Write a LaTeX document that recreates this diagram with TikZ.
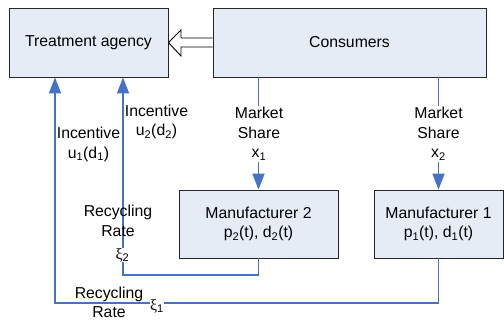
\documentclass[tikz,border=0pt]{standalone}
\usepackage{fontspec}
\setmainfont{Liberation Sans}
\newfontfamily\xifont{Liberation Serif}
\usetikzlibrary{arrows.meta}

\definecolor{flowblue}{RGB}{68,114,196}
\definecolor{boxfill}{RGB}{230,236,246}

\tikzset{
  block/.style={draw=black!85, fill=boxfill, line width=0.9pt, align=center,
    inner sep=0pt, font=\fontsize{15.8}{19.5}\selectfont},
  flow/.style={draw=flowblue, line width=1.8pt},
  flowarrow/.style={flow, -{Triangle[length=16pt,width=12pt,fill=flowblue]}},
  lbl/.style={align=center, inner sep=1pt, font=\fontsize{15.8}{19.5}\selectfont},
}

\begin{document}
\begin{tikzpicture}[x=1pt,y=-1pt]
  \useasboundingbox (0,0) rectangle (504,323);

  % boxes
  \node[block, minimum width=159pt, minimum height=69pt] (agency) at (88.5,42.5) {Treatment agency};
  \node[block, minimum width=273pt, minimum height=69pt] (cons) at (349.5,42.5) {Consumers};
  \node[block, minimum width=159pt, minimum height=68pt] (mfr2) at (258.5,224) {Manufacturer 2\\p\textsubscript{2}(t), d\textsubscript{2}(t)};
  \node[block, minimum width=129pt, minimum height=68pt] (mfr1) at (438.5,224) {Manufacturer 1\\p\textsubscript{1}(t), d\textsubscript{1}(t)};

  % hollow arrow consumers -> agency
  \draw[line width=0.9pt, fill=white] (cons.west |- 0,38) -- (181,38) -- (181,30) -- (agency.east)
    -- (181,56) -- (181,47) -- (cons.west |- 0,47);

  % market share
  \draw[flowarrow] (cons.south -| mfr2.north) -- (mfr2.north);
  \draw[flowarrow] (cons.south -| mfr1.north) -- (mfr1.north);
  \node[lbl, fill=white] (ms2) at (259,134) {Market\\Share\\x\textsubscript{1}};
  \node[lbl, fill=white] (ms1) at (438.5,134) {Market\\Share\\x\textsubscript{2}};

  % recycling back to the agency
  \coordinate (r2) at (123,275);
  \coordinate (r1) at (55,303);
  \draw[flowarrow] (mfr2.south) |- (r2) -- (r2 |- agency.south);
  \draw[flowarrow] (mfr1.south) |- (r1) -- (r1 |- agency.south);

  \node[lbl] (rr2) at (118,221) {Recycling\\Rate};
  \node[lbl, fill=white, inner sep=0.5pt] (xi2) at (122.5,255) {{\xifont ξ}\textsubscript{2}};
  \node[lbl] (rr1) at (109,302.5) {Recycling\\Rate};
  \node[lbl, fill=white, inner sep=0.5pt] (xi1) at (157,306) {{\xifont ξ}\textsubscript{1}};

  % incentives
  \node[lbl] (inc1) at (88.5,144.5) {Incentive\\u\textsubscript{1}(d\textsubscript{1})};
  \node[lbl] (inc2) at (156.5,122) {Incentive\\u\textsubscript{2}(d\textsubscript{2})};
\end{tikzpicture}
\end{document}
